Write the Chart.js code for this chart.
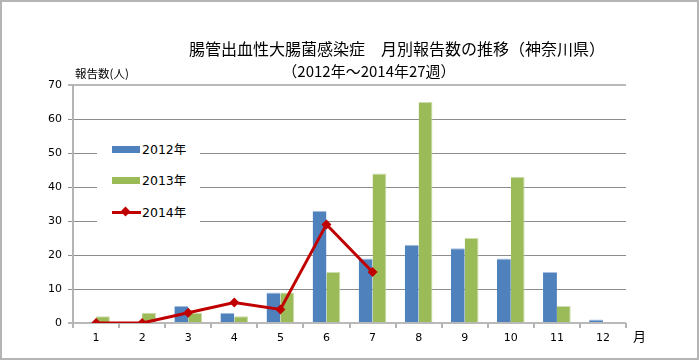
<!DOCTYPE html>
<html lang="ja">
<head>
    <meta charset="UTF-8">
    <title>腸管出血性大腸菌感染症 月別報告数の推移</title>
    <script src="https://cdn.jsdelivr.net/npm/chart.js"></script>
    <style>
        body {
            margin: 0;
            background: #fff;
            font-family: "DejaVu Sans", "Noto Sans CJK JP", sans-serif;
        }
        .frame {
            position: relative;
            width: 695px;
            height: 356px;
            border: 2px solid #b4b4b4;
            overflow: hidden;
        }
        canvas {
            position: absolute;
            left: -2px;
            top: -2px;
        }
        .title {
            position: absolute;
            left: 0;
            text-align: center;
            font-family: "Noto Sans CJK JP", sans-serif;
            color: #000;
            white-space: nowrap;
        }
        .t1 { top: 34px; width: 790px; font-size: 16px; }
        .t2 { top: 58px; width: 734px; font-size: 15px; }
        .unit {
            position: absolute;
            font-family: "Noto Sans CJK JP", sans-serif;
            font-size: 11.5px;
            color: #000;
        }
        .legend {
            position: absolute;
            left: 95px;
            top: 133px;
            width: 103px;
            height: 92px;
            background: #fff;
            font-size: 12.5px;
        }
        .legend .item {
            position: absolute;
            left: 15px;
            height: 16px;
            line-height: 16px;
            white-space: nowrap;
        }
        .legend .sym {
            display: inline-block;
            position: relative;
            width: 28px;
            height: 16px;
            vertical-align: top;
            margin-right: 2px;
        }
        .legend .box {
            position: absolute;
            left: 0;
            top: 4px;
            width: 28px;
            height: 7px;
        }
        .legend .ln {
            position: absolute;
            left: 0;
            top: 6px;
            width: 29px;
            height: 3px;
        }
        .legend .dia {
            position: absolute;
            left: 10px;
            top: 3px;
            width: 7px;
            height: 7px;
            transform: rotate(45deg);
        }
    </style>
</head>
<body>
    <div class="frame">
        <canvas id="chart" width="699" height="360"></canvas>
        <div class="title t1">腸管出血性大腸菌感染症　月別報告数の推移（神奈川県）</div>
        <div class="title t2">（2012年～2014年27週）</div>
        <div class="unit" style="left:73px; top:63px;">報告数(人)</div>
        <div class="unit" style="left:631px; top:324px; font-size:13px;">月</div>
        <div class="legend" id="legend"></div>
    </div>

    <script>
        // months and monthly counts
        const months = ['1', '2', '3', '4', '5', '6', '7', '8', '9', '10', '11', '12'];
        const cases2012 = [0, 0, 5, 3, 9, 33, 19, 23, 22, 19, 15, 1];
        const cases2013 = [2, 3, 3, 2, 9, 15, 44, 65, 25, 43, 5, 0];
        const cases2014 = [0, 0, 3, 6, 4, 29, 15, null, null, null, null, null];
        const yTicks = [0, 10, 20, 30, 40, 50, 60, 70];

        const seriesNames = ['2012年', '2013年', '2014年'];
        const seriesColors = ['#4F81BD', '#9BBB59', '#C00000'];

        const chart = new Chart(document.getElementById('chart'), {
            type: 'bar',
            data: {
                labels: months,
                datasets: [
                    {
                        label: seriesNames[0],
                        data: cases2012,
                        backgroundColor: seriesColors[0],
                        borderColor: '#a9bfdf',
                        borderWidth: { top: 1, left: 0, right: 0, bottom: 0 },
                        categoryPercentage: 0.6,
                        barPercentage: 1.0,
                        order: 2
                    },
                    {
                        label: seriesNames[1],
                        data: cases2013,
                        backgroundColor: seriesColors[1],
                        borderColor: '#cddcad',
                        borderWidth: { top: 1, left: 0, right: 1, bottom: 0 },
                        categoryPercentage: 0.6,
                        barPercentage: 1.0,
                        order: 2
                    },
                    {
                        type: 'line',
                        label: seriesNames[2],
                        data: cases2014,
                        borderColor: seriesColors[2],
                        backgroundColor: seriesColors[2],
                        borderWidth: 3,
                        pointStyle: 'rectRot',
                        pointRadius: 5,
                        pointBorderWidth: 0,
                        tension: 0,
                        spanGaps: false,
                        order: 0
                    }
                ]
            },
            options: {
                responsive: false,
                animation: false,
                layout: {
                    padding: { left: 0, right: 73, top: 85, bottom: 0 }
                },
                plugins: {
                    legend: { display: false },
                    title: { display: false },
                    tooltip: { enabled: false }
                },
                scales: {
                    x: {
                        grid: {
                            offset: true,
                            drawOnChartArea: false,
                            drawTicks: true,
                            tickLength: 5,
                            color: '#b4b4b4',
                            lineWidth: 2
                        },
                        border: { display: false },
                        ticks: {
                            color: '#000',
                            padding: 4,
                            font: { family: 'DejaVu Sans', size: 11 }
                        },
                        afterFit: function(axis) { axis.height = 37; }
                    },
                    y: {
                        min: 0,
                        max: 70,
                        afterBuildTicks: function(axis) {
                            axis.ticks = yTicks.map(v => ({ value: v }));
                        },
                        grid: {
                            tickLength: 5,
                            color: function(ctx) {
                                const v = ctx.tick ? ctx.tick.value : 0;
                                return (v === 0 || v === 70) ? '#b9b9b9' : '#8c8c8c';
                            },
                            lineWidth: function(ctx) {
                                const v = ctx.tick ? ctx.tick.value : 0;
                                return (v === 0 || v === 70) ? 2 : 1;
                            }
                        },
                        border: { display: true, color: '#b4b4b4', width: 2 },
                        ticks: {
                            color: '#000',
                            padding: 6,
                            font: { family: 'DejaVu Sans', size: 11 }
                        },
                        afterFit: function(axis) { axis.width = 73; }
                    }
                }
            }
        });

        // legend drawn as html, from the series arrays
        const legend = document.getElementById('legend');
        const legendTops = [7, 38, 70];
        seriesNames.forEach((name, i) => {
            const item = document.createElement('div');
            item.className = 'item';
            item.style.top = legendTops[i] + 'px';
            let sym;
            if (i < 2) {
                sym = `<span class="sym"><span class="box" style="background:${seriesColors[i]}"></span></span>`;
            } else {
                sym = `<span class="sym"><span class="ln" style="background:${seriesColors[i]}"></span>` +
                      `<span class="dia" style="background:${seriesColors[i]}"></span></span>`;
            }
            item.innerHTML = sym + name;
            legend.appendChild(item);
        });
    </script>
</body>
</html>
